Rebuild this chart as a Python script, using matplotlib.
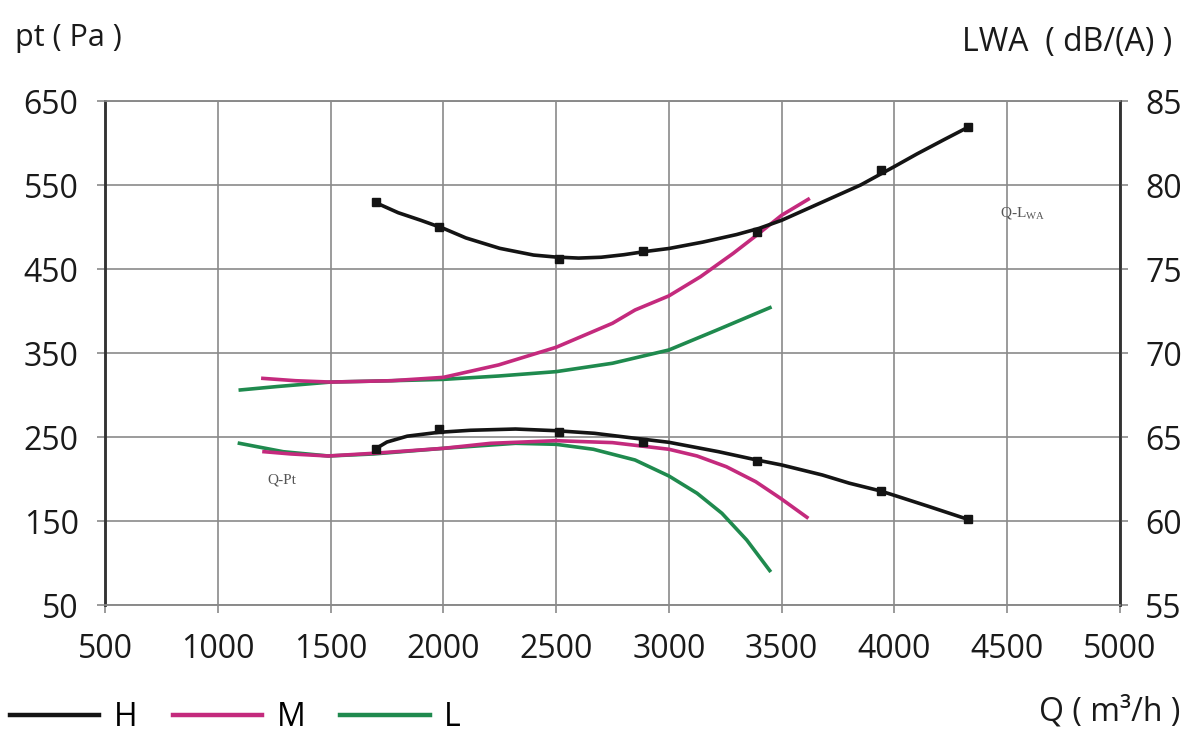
import matplotlib.pyplot as plt
from matplotlib.lines import Line2D

plt.rcParams['font.family'] = ['Open Sans', 'DejaVu Sans']

# --- data ---
# H (black): pressure curve, noise curve, measured points
h_q = [1700, 1750, 1840, 1980, 2120, 2320, 2500, 2670, 2850, 3000, 3220, 3390, 3500,
       3680, 3800, 3935, 4000, 4150, 4325]
h_pt = [236, 244, 251, 255.6, 258, 259.5, 257.5, 254.4, 248.5, 243.7, 232.5, 222.6, 216.7,
        204.8, 195, 186, 180.5, 167.5, 152]
h_lwa_q = [1700, 1800, 1900, 2000, 2100, 2250, 2400, 2500, 2600, 2700, 2800, 2900, 3000,
           3150, 3300, 3400, 3500, 3600, 3700, 3850, 4000, 4100, 4220, 4325]
h_lwa = [78.95, 78.35, 77.9, 77.42, 76.85, 76.23, 75.83, 75.71, 75.65, 75.7, 75.85, 76.05, 76.22,
         76.6, 77.05, 77.42, 77.9, 78.5, 79.1, 80.0, 81.1, 81.85, 82.7, 83.43]
hm_q = [1700, 1980, 2515, 2885, 3390, 3940, 4325]
hm_pt = [235.5, 260, 255.5, 244.5, 221.5, 186, 152.5]
hm_lwa = [79.0, 77.5, 75.6, 76.05, 77.2, 80.9, 83.45]

# M (magenta)
m_q = [1205, 1325, 1490, 1690, 2000, 2210, 2500, 2750, 3000, 3125, 3255, 3385, 3495, 3612]
m_pt = [232.5, 229.8, 227.4, 230.6, 236.5, 242.5, 245.6, 243.3, 235.4, 227.4, 214.6, 196.8,
        177, 154.4]
m_lwa_q = [1200, 1345, 1500, 1770, 2000, 2245, 2500, 2750, 2850, 3000, 3140, 3285, 3390,
           3500, 3618]
m_lwa = [68.49, 68.35, 68.27, 68.35, 68.55, 69.29, 70.34, 71.77, 72.56, 73.4, 74.54, 75.93,
         77.02, 78.2, 79.15]

# L (green)
l_q = [1096, 1290, 1490, 1690, 2000, 2320, 2500, 2665, 2850, 3000, 3125, 3235, 3345, 3447]
l_pt = [242.5, 232.5, 227.4, 229.8, 236.5, 242.5, 241.3, 235.4, 222.6, 203.6, 183, 159.2,
        127.4, 91]
l_lwa_q = [1100, 1260, 1500, 1770, 2000, 2245, 2500, 2750, 3000, 3210, 3448]
l_lwa = [67.8, 68.0, 68.27, 68.35, 68.43, 68.63, 68.89, 69.39, 70.18, 71.35, 72.7]

x_ticks = [500, 1000, 1500, 2000, 2500, 3000, 3500, 4000, 4500, 5000]
pt_ticks = [50, 150, 250, 350, 450, 550, 650]
lwa_ticks = [55, 60, 65, 70, 75, 80, 85]

black = '#141414'
pink = '#c42a7d'
green = '#1f8a4e'
grid_c = '#8a8a8a'
text_c = '#1a1a1a'

fig = plt.figure(figsize=(12, 7.54), dpi=100)
ax = fig.add_axes([105 / 1200, 1 - 605 / 754, 1015 / 1200, 504 / 754])
ax2 = ax.twinx()

ax.set_xlim(500, 5000)
ax.set_ylim(50, 650)
ax2.set_ylim(55, 85)
ax.set_xticks(x_ticks)
ax.set_yticks(pt_ticks)
ax2.set_yticks(lwa_ticks)
ax.grid(True, color=grid_c, lw=1.2)
ax.set_axisbelow(True)

for a in (ax, ax2):
    for s in ('top', 'bottom'):
        a.spines[s].set_color(grid_c)
        a.spines[s].set_linewidth(1.2)
    for s in ('left', 'right'):
        a.spines[s].set_color('#333333')
        a.spines[s].set_linewidth(1.8)

ax.tick_params(axis='both', length=6, width=1.2, color=grid_c, labelsize=23, labelcolor=text_c)
ax.tick_params(axis='y', pad=13)
ax.tick_params(axis='x', pad=14)
ax2.tick_params(axis='y', length=6, width=1.2, color=grid_c, labelsize=23, labelcolor=text_c, pad=12)

lw = 2.6
# pressure curves (left axis)
ax.plot(l_q, l_pt, color=green, lw=lw, solid_joinstyle='round')
ax.plot(m_q, m_pt, color=pink, lw=lw, solid_joinstyle='round')
ax.plot(h_q, h_pt, color=black, lw=lw, solid_joinstyle='round')
ax.plot(hm_q, hm_pt, 's', color=black, ms=6)

# noise curves (right axis)
ax2.plot(l_lwa_q, l_lwa, color=green, lw=lw, solid_joinstyle='round')
ax2.plot(m_lwa_q, m_lwa, color=pink, lw=lw, solid_joinstyle='round')
ax2.plot(h_lwa_q, h_lwa, color=black, lw=lw, solid_joinstyle='round')
ax2.plot(hm_q, hm_lwa, 's', color=black, ms=6)

ax.text(1220, 199, 'Q-Pt', fontsize=11, color='#555555', family=['Liberation Serif'],
        ha='left', va='center')
ax2.text(4470, 78.3, 'Q-L$_{\\mathregular{WA}}$', fontsize=11, color='#555555',
         family=['Liberation Serif'], ha='left', va='center')

fig.text(15 / 1200, 1 - 38 / 754, 'pt ( Pa )', fontsize=22, color=text_c, ha='left', va='center')
fig.text(1172 / 1200, 1 - 42 / 754, 'LWA  ( dB/(A) )', fontsize=23, color=text_c, ha='right', va='center')
fig.text(1180 / 1200, 1 - 712 / 754, 'Q ( m³/h )', fontsize=23, color=text_c, ha='right', va='center')

handles = [Line2D([], [], color=c, lw=3.2) for c in (black, pink, green)]
fig.legend(handles, ['H', 'M', 'L'], loc='center left', bbox_to_anchor=(10 / 1200, 1 - 718 / 754),
           ncol=3, frameon=False, fontsize=23, handlelength=2.8, handletextpad=0.45,
           columnspacing=1.1, borderpad=0, borderaxespad=0)

plt.savefig('out.png', dpi=100)
